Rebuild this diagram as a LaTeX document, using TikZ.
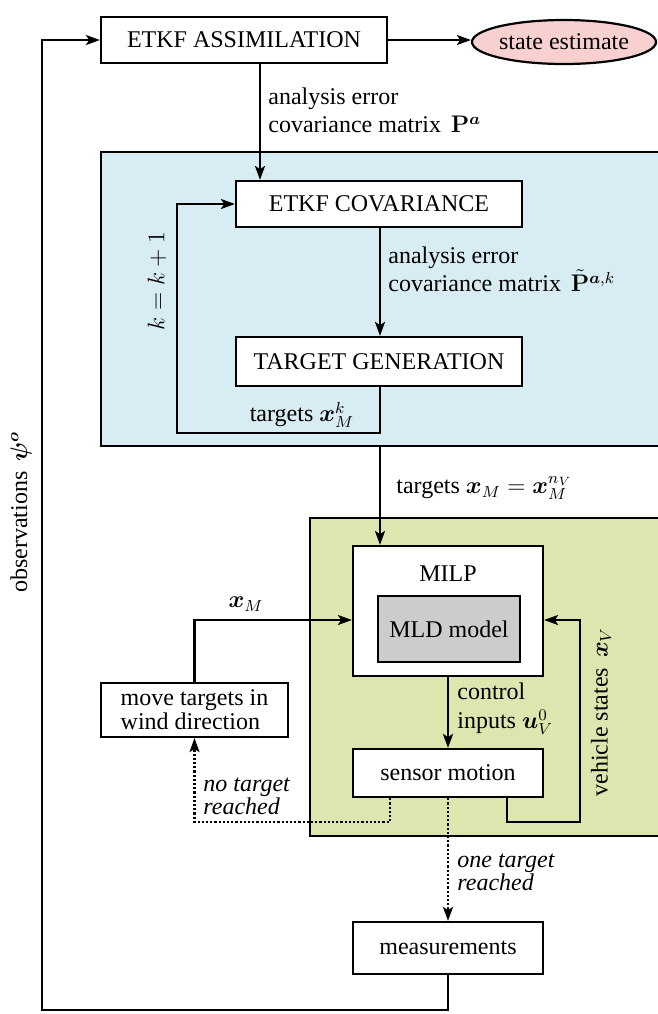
\documentclass[tikz,border=0pt]{standalone}
\usepackage{bm}
\usepackage[no-math]{fontspec}
\setmainfont{Liberation Serif}
\usetikzlibrary{arrows.meta,shapes.geometric}
\definecolor{bluepanel}{HTML}{D7ECF3}
\definecolor{greenpanel}{HTML}{DDE6AF}
\definecolor{pinkfill}{HTML}{F9D0D0}
\definecolor{grayfill}{HTML}{CCCCCC}
\newcommand\pxu{0.5pt}
\tikzset{
  ln/.style={line width=1.1pt},
  arr/.style={ln,-{Stealth[length=7pt,width=5pt,inset=1.6pt]}},
  dotarr/.style={line width=1.1pt,densely dotted,-{Stealth[length=7pt,width=5pt,inset=1.6pt]}},
  blk/.style={draw,line width=1.1pt,fill=white,inner sep=0pt,align=center},
  panel/.style={draw,line width=1.1pt},
  lbl/.style={inner sep=0pt,align=left},
}
\begin{document}
\begin{tikzpicture}[x=\pxu,y=-\pxu,font=\fontsize{12}{14.4}\selectfont]
\useasboundingbox (0,0) rectangle (658,1014);
\clip (0,0) rectangle (658,1014);
% panels
\fill[bluepanel] (101,152) rectangle (720,446);
\draw[panel] (720,152) -- (101,152) -- (101,446) -- (720,446);
\fill[greenpanel] (310,518) rectangle (720,836);
\draw[panel] (720,518) -- (310,518) -- (310,836) -- (720,836);
% nodes
\node[blk,minimum width=286*\pxu,minimum height=46*\pxu] (assim) at (244,40) {ETKF ASSIMILATION};
\node[draw,line width=1.1pt,fill=pinkfill,ellipse,minimum width=184*\pxu,minimum height=44*\pxu,inner sep=0pt] (state) at (564,42) {state estimate};
\node[blk,minimum width=286*\pxu,minimum height=46*\pxu] (cov) at (379,204) {ETKF COVARIANCE};
\node[blk,minimum width=286*\pxu,minimum height=49*\pxu] (tg) at (379,361.5) {TARGET GENERATION};
\node[blk,minimum width=190*\pxu,minimum height=130*\pxu] (milp) at (448,611) {};
\node[inner sep=0pt] (milplbl) at (448,574) {MILP};
\node[blk,fill=grayfill,minimum width=142*\pxu,minimum height=66*\pxu] (mld) at (449,629) {MLD model};
\node[blk,minimum width=187*\pxu,minimum height=54*\pxu,align=left] (move) at (194.5,710) {move targets in\\[-2.5pt]wind direction};
\node[blk,minimum width=190*\pxu,minimum height=48*\pxu] (sensor) at (448,773) {sensor motion};
\node[blk,minimum width=190*\pxu,minimum height=52*\pxu] (meas) at (448,948) {measurements};
% helper coordinates
\coordinate (xa) at (260,0);
\coordinate (xb) at (380,0);
\coordinate (loop) at (177,433);
\coordinate (bluebot) at (380,446);
\coordinate (ya) at (0,620);
\coordinate (xvs) at (507,0);
\coordinate (vsc) at (580,822);
\coordinate (xdot) at (390,0);
\coordinate (dy) at (0,822);
\coordinate (bl) at (42,1010);
% connectors
\draw[arr] (assim.east) -- (state.west |- assim.east);
\draw[arr] (assim.south -| xa) -- (cov.north -| xa);
\draw[arr] (cov.south -| xb) -- (tg.north -| xb);
\draw[arr] (tg.south -| xb) |- (loop) |- (cov.west);
\draw[arr] (bluebot) -- (milp.north -| bluebot);
\draw[arr] (move.north) |- (milp.west |- ya);
\draw[arr] (milp.south) -- (sensor.north);
\draw[arr] (sensor.south -| xvs) |- (vsc) |- (milp.east |- ya);
\draw[dotarr] (sensor.south -| xdot) |- (move.south |- dy) -- (move.south);
\draw[dotarr] (sensor.south) -- (meas.north);
\draw[arr] (meas.south) |- (bl) |- (assim.west);
% labels
\node[lbl,anchor=north west] (l1) at (268,87) {analysis error\\covariance matrix \,$\mathbf{P}^{\bm{a}}$};
\node[lbl,anchor=north west] (l2) at (388,246) {analysis error\\covariance matrix \,$\tilde{\mathbf{P}}^{\bm{a},k}$};
\node[lbl] (l3) at (302,415) {targets $\bm{x}_M^k$};
\node[lbl,rotate=90] (l4) at (157,281) {$k=k+1$};
\node[lbl,anchor=west] (l5) at (396,488) {targets $\bm{x}_M=\bm{x}_M^{n_V}$};
\node[lbl] (l6) at (246,604) {$\bm{x}_M$};
\node[lbl,anchor=west] (l7) at (457,709) {control\\inputs $\bm{u}_V^0$};
\node[lbl,rotate=90] (l8) at (601,712) {vehicle states \,$\bm{x}_V$};
\node[lbl,anchor=west] (l9) at (203,796) {\itshape no target\\[-3pt]\itshape reached};
\node[lbl,anchor=west] (l10) at (457,872) {\itshape one target\\[-3pt]\itshape reached};
\node[lbl,rotate=90] (l11) at (21,512) {observations \,$\bm{\psi}^{\bm{o}}$};
\end{tikzpicture}
\end{document}
